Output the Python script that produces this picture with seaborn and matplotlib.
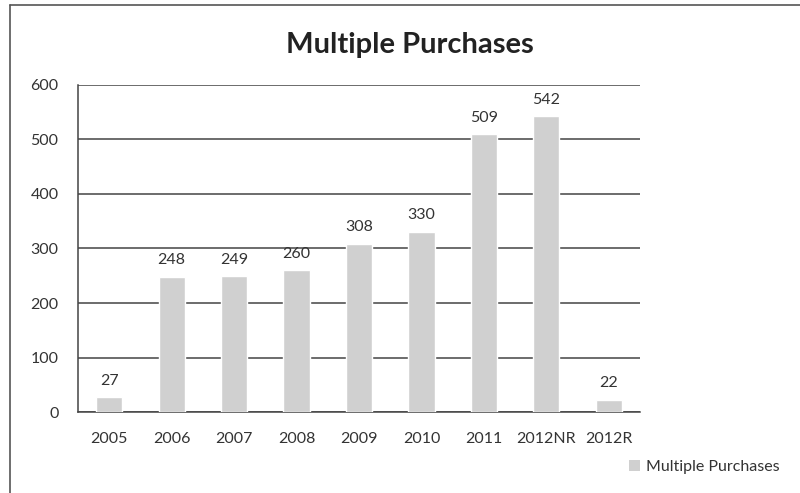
import matplotlib
matplotlib.use("Agg")
import matplotlib.pyplot as plt
import seaborn as sns
import pandas as pd
from matplotlib.lines import Line2D
from matplotlib.patches import Patch

categories = ["2005", "2006", "2007", "2008", "2009", "2010", "2011", "2012NR", "2012R"]
values = [27, 248, 249, 260, 308, 330, 509, 542, 22]
series_name = "Multiple Purchases"
yticks = [0, 100, 200, 300, 400, 500, 600]

sns.set_theme(style="white")
plt.rcParams['font.family'] = ['Lato', 'DejaVu Sans']

df = pd.DataFrame({"cat": categories, "val": values})

fig = plt.figure(figsize=(8, 4.93), dpi=100)
ax = fig.add_axes([0.0975, 0.164, 0.7025, 0.664])

bar_color = "#d0d0d0"
sns.barplot(data=df, x="cat", y="val", color=bar_color, width=0.42, ax=ax,
            saturation=1, zorder=3)

ax.set_ylim(0, 600)
ax.set_yticks(yticks)
ax.set_yticklabels([str(t) for t in yticks], fontsize=11.5, color="#333333")
ax.tick_params(axis="x", labelsize=11.5, colors="#333333", length=0, pad=14)
ax.tick_params(axis="y", length=0, pad=14)
ax.set_xlabel("")
ax.set_ylabel("")
ax.yaxis.grid(True, color="#444444", linewidth=1.1, zorder=0)
ax.set_axisbelow(True)
for s in ["top", "right"]:
    ax.spines[s].set_visible(False)
ax.spines["left"].set_color("#444444")
ax.spines["bottom"].set_color("#444444")
ax.spines["left"].set_linewidth(1.1)
ax.spines["bottom"].set_linewidth(1.1)

for container in ax.containers:
    ax.bar_label(container, labels=[str(v) for v in values], padding=7,
                 fontsize=11.5, color="#333333")

fig.text(0.512, 0.909, "Multiple Purchases", ha="center", va="center",
         fontsize=21, fontweight="bold", color="#222222")

# legend
fig.legend(handles=[Patch(facecolor=bar_color, edgecolor="none", label=series_name)],
           loc="center left", bbox_to_anchor=(0.768, 0.053), frameon=False,
           fontsize=11.5, handlelength=0.7, handleheight=0.7, handletextpad=0.4,
           labelcolor="#333333")

# outer border (top and left)
fig.add_artist(Line2D([10/800, 1.0], [1 - 5/493, 1 - 5/493], color="#555555",
                      linewidth=1.2, transform=fig.transFigure))
fig.add_artist(Line2D([10/800, 10/800], [0, 1 - 5/493], color="#555555",
                      linewidth=1.2, transform=fig.transFigure))

fig.savefig("out.png", dpi=100)
